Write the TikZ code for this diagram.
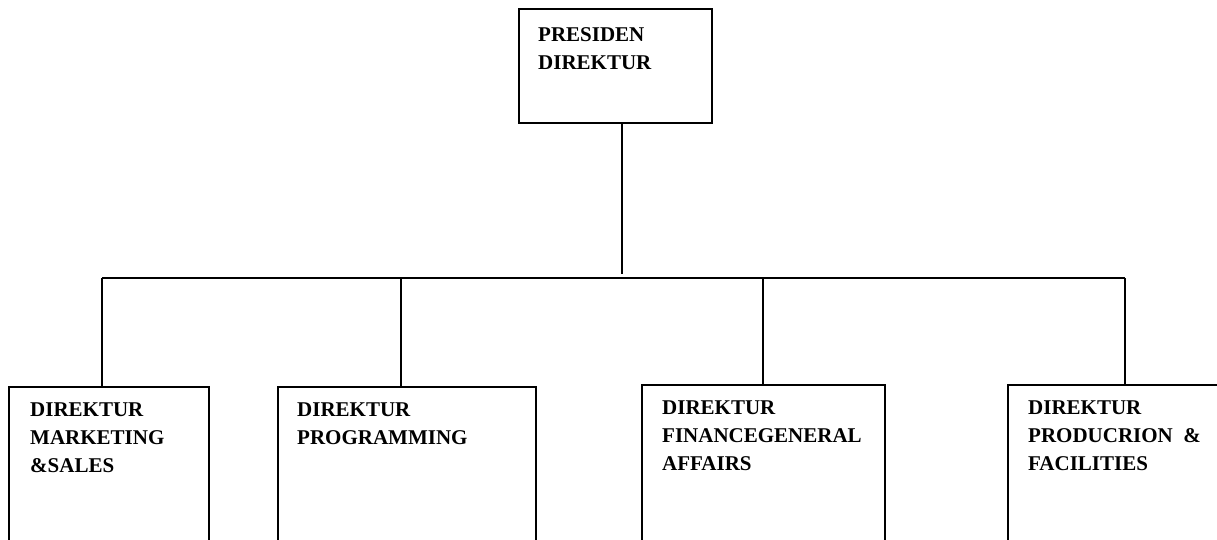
\documentclass[tikz,border=0pt]{standalone}
\usepackage{fontspec}
\setmainfont{Liberation Serif}
\begin{document}
\begin{tikzpicture}[x=1pt,y=-1pt,
  frame/.style={draw, line width=1.9pt, rectangle, inner sep=0pt, anchor=north west},
  lbl/.style={anchor=north west, inner sep=0pt, align=left, font=\fontsize{21}{28}\selectfont\bfseries},
  conn/.style={line width=1.9pt}]
\useasboundingbox (0,0) rectangle (1217,540);
\clip (0,0) rectangle (1217,540);
% boxes
\node[frame, minimum width=193pt, minimum height=114pt] (top) at (518,8) {};
\node[frame, minimum width=200pt, minimum height=220pt] (b1) at (8,386) {};
\node[frame, minimum width=258pt, minimum height=220pt] (b2) at (277,386) {};
\node[frame, minimum width=243pt, minimum height=220pt] (b3) at (641,384) {};
\node[frame, minimum width=280pt, minimum height=220pt] (b4) at (1007,384) {};
% labels
\node[lbl] (t0) at ([xshift=20pt,yshift=-19pt]top.north west) {PRESIDEN\\DIREKTUR};
\node[lbl] (t1) at ([xshift=22pt,yshift=-17pt]b1.north west) {DIREKTUR\\MARKETING\\\&SALES};
\node[lbl] (t2) at ([xshift=20pt,yshift=-17pt]b2.north west) {DIREKTUR\\PROGRAMMING};
\node[lbl] (t3) at ([xshift=21pt,yshift=-17pt]b3.north west) {DIREKTUR\\FINANCEGENERAL\\AFFAIRS};
\node[lbl] (t4) at ([xshift=21pt,yshift=-17pt]b4.north west) {DIREKTUR\\PRODUCRION\ \ \&\\FACILITIES};
% connectors
\coordinate (stem) at (622,274);
\coordinate (busL) at (102,278);
\coordinate (busR) at (1125,278);
\coordinate (j2) at (401,278);
\coordinate (j3) at (763,278);
\draw[conn] (top.south -| stem) -- (stem);
\draw[conn] (busL) -- (busR);
\draw[conn] (busL) -- (busL |- b1.north);
\draw[conn] (j2) -- (j2 |- b2.north);
\draw[conn] (j3) -- (j3 |- b3.north);
\draw[conn] (busR) -- (busR |- b4.north);
\end{tikzpicture}
\end{document}
